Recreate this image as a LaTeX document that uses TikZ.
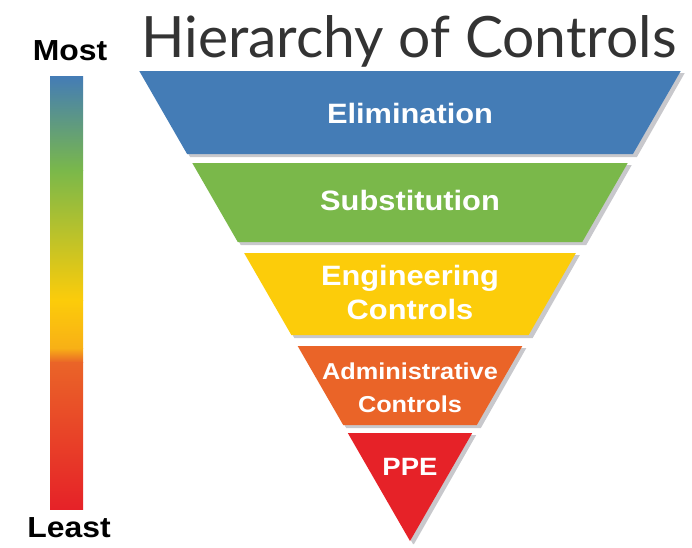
\documentclass[tikz,border=0pt]{standalone}
\usepackage{fontspec}
\setmainfont{Liberation Sans}
\newfontfamily\titlefont{Lato}
\newfontfamily\levelfont[FakeStretch=1.1]{Liberation Sans}
\usetikzlibrary{calc}

\definecolor{elimblue}{RGB}{68,124,182}
\definecolor{substgreen}{RGB}{122,184,74}
\definecolor{enggold}{RGB}{252,204,10}
\definecolor{midorange}{RGB}{248,176,22}
\definecolor{adminorange}{RGB}{234,100,40}
\definecolor{ppered}{RGB}{230,34,40}
\definecolor{shadowgray}{RGB}{200,200,204}

\begin{document}
\begin{tikzpicture}[x=1pt,y=-1pt,
      level/.style={text=white,anchor=base,inner sep=0pt,
        font=\levelfont\bfseries\fontsize{28}{30}\selectfont},
      smalllevel/.style={level,font=\levelfont\bfseries\fontsize{23}{25}\selectfont},
      scalelabel/.style={anchor=base,inner sep=0pt,
        font=\levelfont\bfseries\fontsize{29}{31}\selectfont}]
      \useasboundingbox[fill=white] (0,0) rectangle (692,547);

      \node[anchor=base,inner sep=0pt,text=black!80,
        font=\titlefont\fontsize{57}{60}\selectfont] (title) at (409,57) {Hierarchy of Controls};

      \shade[top color=elimblue,bottom color=substgreen] (50,76) rectangle (83,170.5);
      \shade[top color=substgreen,bottom color=enggold] (50,170) rectangle (83,300.5);
      \shade[top color=enggold,bottom color=midorange] (50,300) rectangle (83,348.5);
      \shade[top color=midorange,bottom color=adminorange] (50,348) rectangle (83,362.5);
      \shade[top color=adminorange,bottom color=ppered] (50,362) rectangle (83,509);
      \node[scalelabel] (most) at (70,60) {Most};
      \node[scalelabel] (least) at (69,537) {Least};

      \foreach \ya/\yb/\col in {71/154/elimblue,163/242/substgreen,
          253/335/enggold,346/425/adminorange,433/541/ppered} {
        \pgfmathsetmacro\wa{0.576*(541-\ya)}
        \pgfmathsetmacro\wb{0.576*(541-\yb)}
        \fill[shadowgray] (410-\wa+3,\ya+2) -- (410+\wa+4,\ya+2)
          -- (410+\wb+4,\yb+3) -- (410-\wb+3,\yb+3) -- cycle;
        \fill[\col] (410-\wa,\ya) -- (410+\wa,\ya) -- (410+\wb,\yb)
          -- (410-\wb,\yb) -- cycle;
      }

      \node[level] (elim) at (410,123) {Elimination};
      \node[level] (subst) at (410,210) {Substitution};
      \node[level] (eng) at (410,285) {Engineering};
      \node[level] (engctl) at (410,319) {Controls};
      \node[smalllevel] (admin) at (410,379) {Administrative};
      \node[smalllevel] (adminctl) at (410,412) {Controls};
      \node[level,font=\levelfont\bfseries\fontsize{25}{27}\selectfont] (ppe) at (410,475) {PPE};
\end{tikzpicture}
\end{document}
